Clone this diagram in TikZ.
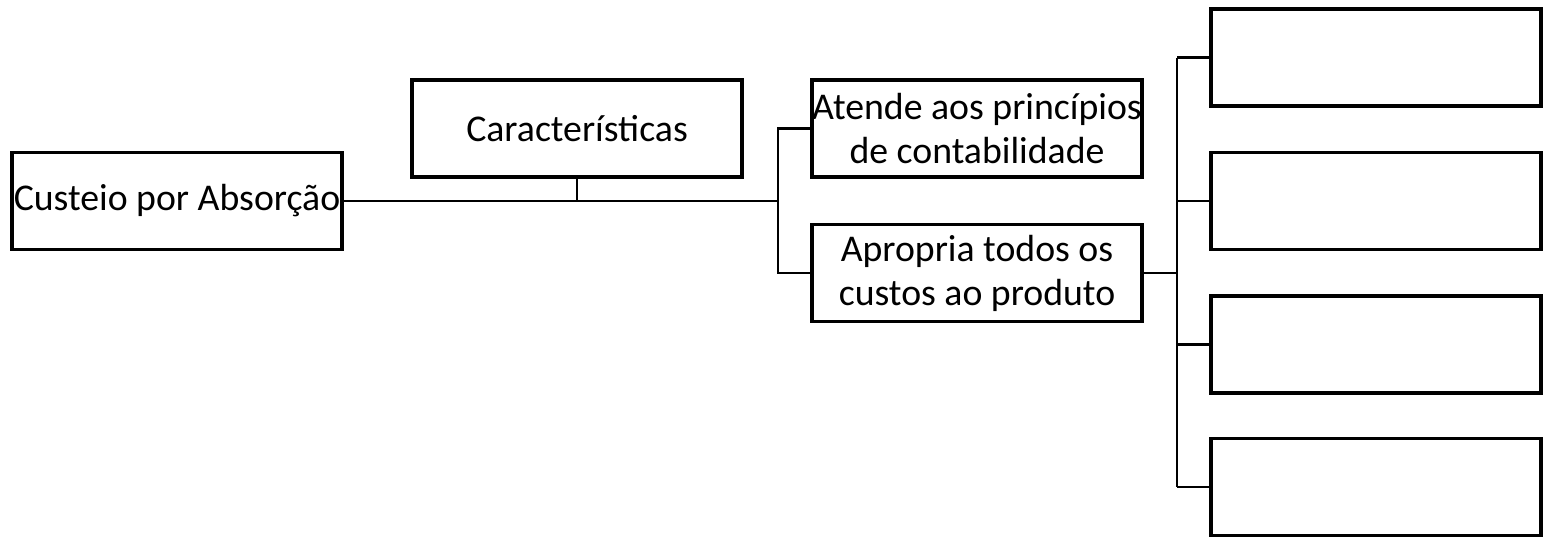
\documentclass[tikz,border=0pt]{standalone}
\usepackage{fontspec}
\setmainfont{Carlito}
\usepackage{tikz}
\tikzset{
	caixa/.style={
			draw, line width=0.07cm, rectangle, inner sep=0pt,
			minimum width=6.6cm, minimum height=1.94cm,
			align=center, font=\fontsize{21.5}{25}\selectfont
		},
	liga/.style={line width=0.045cm}
}

\begin{document}
\begin{tikzpicture}[x=0.02cm, y=-0.02cm]
		\useasboundingbox (0,0) rectangle (1543,539);

		% Main boxes
		\node[caixa] (cust) at (177,201) {Custeio por Absorção};
		\node[caixa] (carac) at (577,128.5) {Características};
		\node[caixa] (atende) at (977,128.5) {Atende aos princípios\\de contabilidade};
		\node[caixa] (apropria) at (977,273) {Apropria todos os\\custos ao produto};

		% Empty boxes
		\node[caixa] (r1) at (1376,57.5) {};
		\node[caixa] (r2) at (1376,201) {};
		\node[caixa] (r3) at (1376,344.5) {};
		\node[caixa] (r4) at (1376,487) {};

		% Connectors
		\coordinate (ramo1) at (778,201);
		\coordinate (ramo2) at (1177,273);
		\draw[liga] (cust.east) -- (ramo1);
		\draw[liga] (carac.south) -- (carac.south |- ramo1);
		\draw[liga] (atende.west) -| (ramo1) |- (apropria.west);
		\draw[liga] (apropria.east) -- (ramo2);
		\draw[liga] (ramo2 |- r1.west) -- (ramo2 |- r4.west);
		\foreach \i in {1,...,4}
			\draw[liga] (r\i.west) -- (r\i.west -| ramo2);
	\end{tikzpicture}
\end{document}
